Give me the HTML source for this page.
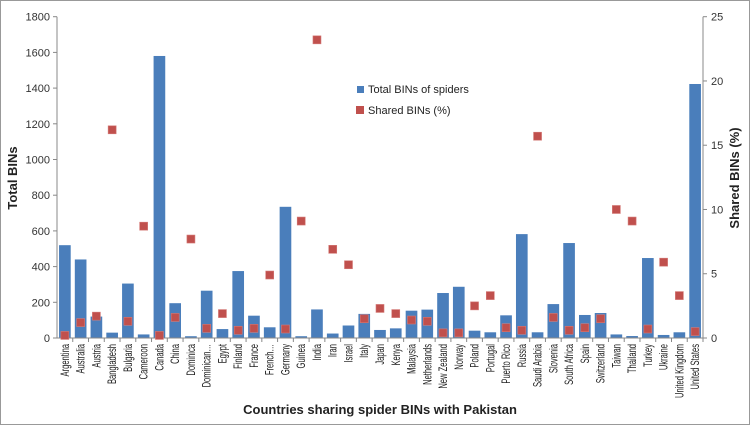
<!DOCTYPE html>
<html><head><meta charset="utf-8"><style>
body{margin:0;background:#fff;}
svg{display:block;font-family:"Liberation Sans",sans-serif;}
</style></head><body>
<svg id="chart" width="750" height="425">
<rect x="0.5" y="0.5" width="749" height="424" fill="#fff" stroke="#999"/>
</svg>
<script>
const categories=["Argentina","Australia","Austria","Bangladesh","Bulgaria","Cameroon","Canada","China","Dominica","Dominican…","Egypt","Finland","France","French…","Germany","Guinea","India","Iran","Israel","Italy","Japan","Kenya","Malaysia","Netherlands","New Zealand","Norway","Poland","Portugal","Puerto Rico","Russia","Saudi Arabia","Slovenia","South Africa","Spain","Switzerland","Taiwan","Thailand","Turkey","Ukraine","United Kingdom","United States"];
const totalBins=[520,440,120,30,305,20,1580,195,10,265,50,375,125,60,735,10,160,25,70,135,45,54,153,159,252,287,41,32,127,582,32,190,532,129,140,20,11,448,17,32,1423];
const sharedPct=[0.2,1.2,1.7,16.2,1.3,8.7,0.2,1.6,7.7,0.75,1.9,0.6,0.75,4.9,0.7,9.1,23.2,6.9,5.7,1.5,2.3,1.9,1.4,1.3,0.4,0.4,2.5,3.3,0.8,0.6,15.7,1.6,0.6,0.8,1.5,10,9.1,0.7,5.9,3.3,0.5];
const leftTicks=[0,200,400,600,800,1000,1200,1400,1600,1800];
const rightTicks=[0,5,10,15,20,25];

const svg=document.getElementById('chart');
const NS='http://www.w3.org/2000/svg';
const X0=57,X1=703,Y0=338,Y1=16.7;
const band=(X1-X0)/categories.length;
const yL=v=>Y0-(v/1800)*(Y0-Y1);
const yR=v=>Y0-(v/25)*(Y0-Y1);
const xC=i=>X0+band*(i+0.5);
function mk(tag,attrs,parent){const e=document.createElementNS(NS,tag);for(const k in attrs)e.setAttribute(k,attrs[k]);(parent||svg).appendChild(e);return e;}

const axL=mk('line',{x1:X0,y1:Y1,x2:X0,y2:Y0,stroke:'#888'});


const axR=mk('line',{x1:X1,y1:Y1,x2:X1,y2:Y0,stroke:'#888'});


leftTicks.forEach(t=>{
  mk('line',{x1:X0-4,x2:X0,y1:yL(t),y2:yL(t),stroke:'#888'});
  const tx=mk('text',{x:X0-7,y:yL(t)+4,'text-anchor':'end','font-size':11,fill:'#333'});
  tx.textContent=t;
  
  
});
rightTicks.forEach(t=>{
  mk('line',{x1:X1,x2:X1+4,y1:yR(t),y2:yR(t),stroke:'#888'});
  const tx=mk('text',{x:X1+8,y:yR(t)+4,'font-size':11,fill:'#333'});
  tx.textContent=t;
  
  
});
totalBins.forEach((v,i)=>{
  const w=band*0.74;
  const r=mk('rect',{x:xC(i)-w/2,y:yL(v),width:w,height:Y0-yL(v),fill:'#4a7ebb'});
  
  
});
const axB=mk('line',{x1:X0,y1:Y0,x2:X1,y2:Y0,stroke:'#888'});


categories.forEach((c,i)=>{
  mk('line',{x1:X0+band*(i+1),x2:X0+band*(i+1),y1:Y0,y2:Y0+4,stroke:'#888'});
  const tx=mk('text',{transform:`translate(${xC(i)+4},${Y0+6}) rotate(-90) scale(0.66,1)`,'text-anchor':'end','font-size':11.5,fill:'#222'});
  tx.textContent=c;
  
  
});
sharedPct.forEach((v,i)=>{
  const m=mk('rect',{x:xC(i)-4,y:yR(v)-4,width:8,height:8,fill:'#c0504d',stroke:'#d47a77','stroke-width':0.6});
  
  
});
const tl=mk('text',{transform:'translate(17,178) rotate(-90)','text-anchor':'middle','font-size':13,'font-weight':'bold',fill:'#222'});
tl.textContent='Total BINs';


const tr=mk('text',{transform:'translate(739,178) rotate(-90)','text-anchor':'middle','font-size':13,'font-weight':'bold',fill:'#222'});
tr.textContent='Shared BINs (%)';


const tb=mk('text',{x:380,y:414,'text-anchor':'middle','font-size':13,'font-weight':'bold',fill:'#222'});
tb.textContent='Countries sharing spider BINs with Pakistan';


const lg=mk('g',{});


mk('rect',{x:357,y:86,width:7,height:7,fill:'#4a7ebb'},lg);
const l1=mk('text',{x:368,y:93,'font-size':11,fill:'#222'},lg);
l1.textContent='Total BINs of spiders';


mk('rect',{x:356,y:106,width:8,height:8,fill:'#c0504d'},lg);
const l2=mk('text',{x:368,y:114,'font-size':11,fill:'#222'},lg);
l2.textContent='Shared BINs (%)';


</script>
</body></html>
